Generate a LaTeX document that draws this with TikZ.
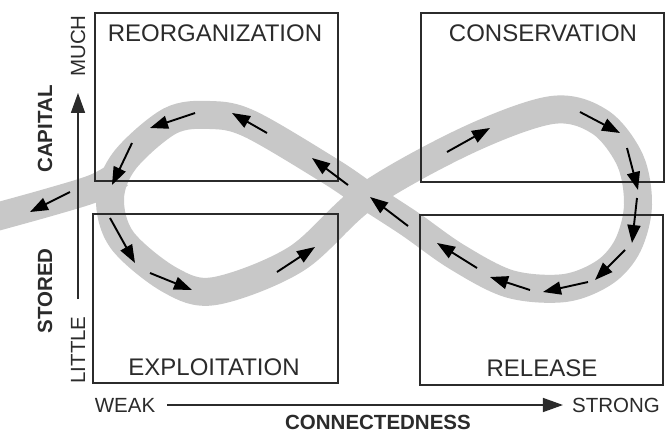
\documentclass[tikz,border=0pt]{standalone}
\usepackage{fontspec}
\setmainfont{Liberation Sans}
\usetikzlibrary{arrows.meta}
\definecolor{band}{HTML}{C8C8C8}
\definecolor{ink}{HTML}{2B2B2B}
\begin{document}
\begin{tikzpicture}[x=1pt,y=-1pt,
  flow/.style={draw=band, line width=28pt, line join=round},
  quad/.style={draw=ink, line width=1.4pt, fill=none, inner sep=0pt, outer sep=0pt, anchor=north west},
  phase/.style={text=ink, font=\fontsize{24}{28}\selectfont, inner sep=0pt},
  axislbl/.style={text=ink, font=\fontsize{20.5}{24}\selectfont, inner sep=0pt},
  axisttl/.style={text=ink, font=\fontsize{20.5}{24}\selectfont\bfseries, inner sep=0pt},
  dirarrow/.style={draw=black, line width=1.9pt, -{Triangle[length=18pt,width=13pt]}},
  axisarrow/.style={draw=ink, line width=1.5pt, -{Triangle[length=20pt,width=14pt]}}
]
\useasboundingbox (0,0) rectangle (665,434);
\fill[white] (0,0) rectangle (665,434);

% gray lazy-eight band
\draw[flow] plot[smooth cycle, tension=0.55] coordinates {
  (367,196) (468,140) (552,110) (600,122) (630,160) (638,205) (628,245)
  (605,272) (565,288) (510,284) (457,257) (410,224)
  (367,196) (330,171) (250,124) (210,115) (170,121) (125,160) (110,198)
  (122,240) (170,280) (215,291) (296,259)};
\draw[flow] plot[smooth, tension=0.55] coordinates {(-15,220) (50,202) (95,188) (120,174)};

% phase boxes
\node[quad, minimum width=243pt, minimum height=168pt] (reorgbox) at (95,13) {};
\node[quad, minimum width=243pt, minimum height=169pt] (consbox) at (421,13) {};
\node[quad, minimum width=245pt, minimum height=169pt] (explbox) at (93,214) {};
\node[quad, minimum width=243pt, minimum height=170pt] (relbox) at (420,215) {};

\node[phase] (reorg) at (215,33.5) {REORGANIZATION};
\node[phase] (cons) at (543,33.5) {CONSERVATION};
\node[phase] (expl) at (214,367.5) {EXPLOITATION};
\node[phase] (rel) at (542,368) {RELEASE};

% flow direction arrows
\draw[dirarrow] (70,192) -- (30,212);
\draw[dirarrow] (132,143) -- (112,185);
\draw[dirarrow] (195,113) -- (150,128);
\draw[dirarrow] (267,133) -- (232,113);
\draw[dirarrow] (348,185) -- (312,158);
\draw[dirarrow] (408,226) -- (370,197);
\draw[dirarrow] (477,268) -- (437,243);
\draw[dirarrow] (530,290) -- (490,277);
\draw[dirarrow] (588,282) -- (543,292);
\draw[dirarrow] (625,250) -- (595,280);
\draw[dirarrow] (637,198) -- (632,243);
\draw[dirarrow] (627,148) -- (638,190);
\draw[dirarrow] (580,112) -- (620,133);
\draw[dirarrow] (447,152) -- (490,128);
\draw[dirarrow] (277,272) -- (315,247);
\draw[dirarrow] (150,273) -- (192,290);
\draw[dirarrow] (110,218) -- (135,263);

% axes labels
\node[axislbl, rotate=90] (much) at (78,46) {MUCH};
\node[axislbl, rotate=90] (little) at (78,350) {LITTLE};
\node[axisttl, rotate=90] (capital) at (45,129) {CAPITAL};
\node[axisttl, rotate=90] (stored) at (45,291) {STORED};
\node[axislbl] (weak) at (125,405) {WEAK};
\node[axislbl] (strong) at (616,405) {STRONG};
\node[axisttl] (connect) at (378,422.5) {CONNECTEDNESS};

\draw[axisarrow, shorten <=17pt, shorten >=16pt] (little.east) -- (much.west);
\draw[axisarrow, shorten <=12pt, shorten >=9pt] (weak.east) -- (strong.west);
\end{tikzpicture}
\end{document}
